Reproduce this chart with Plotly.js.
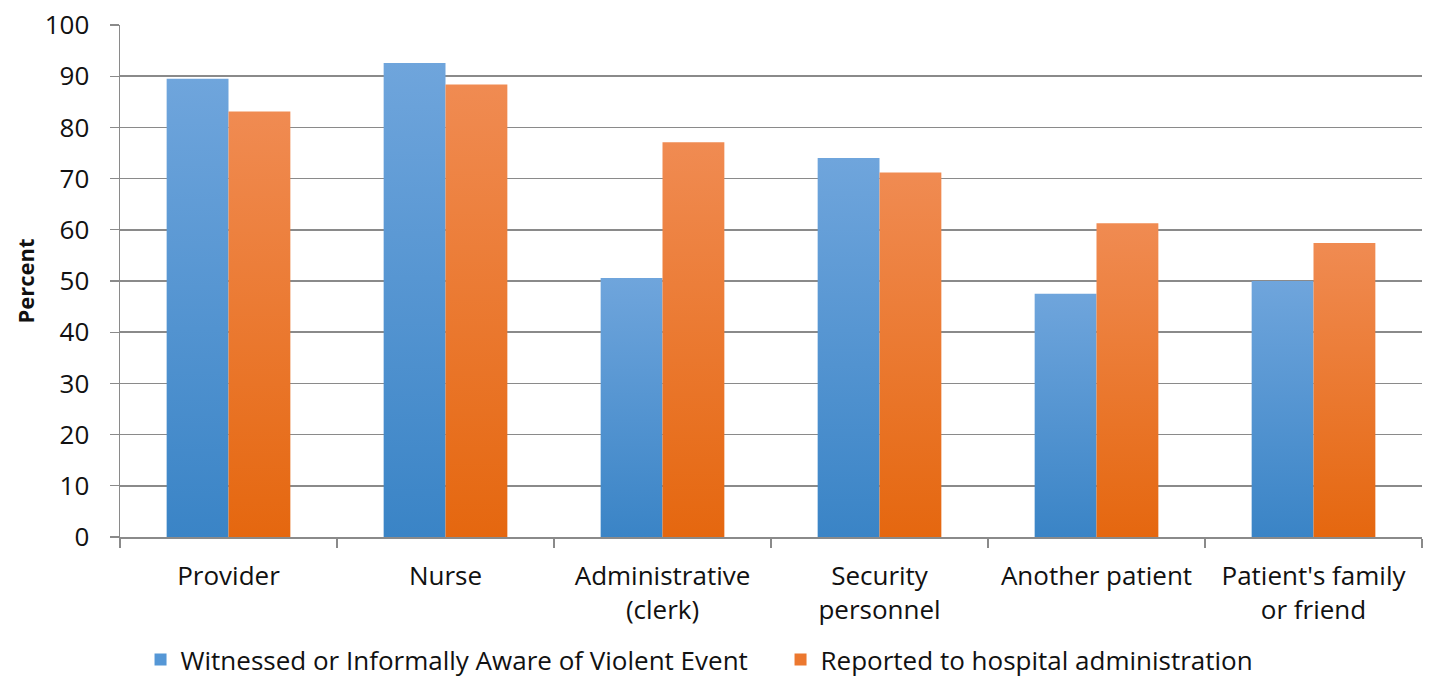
<!DOCTYPE html>
<html>
<head>
<meta charset="utf-8">
<script src="https://cdn.plot.ly/plotly-3.0.1.min.js"></script>
<style>
  html, body { margin: 0; padding: 0; background: #ffffff; }
  #chart { width: 1434px; height: 683px; }
</style>
</head>
<body>
<div id="chart"></div>
<script>
const categories = [
  "Provider",
  "Nurse",
  "Administrative<br>(clerk)",
  "Security<br>personnel",
  "Another patient",
  "Patient's family<br>or friend"
];
const witnessedName = "Witnessed or Informally Aware of Violent Event";
const reportedName = "Reported to hospital administration";
const witnessedValues = [89.5, 92.6, 50.6, 74.0, 47.5, 50.0];
const reportedValues = [83.1, 88.4, 77.1, 71.2, 61.3, 57.4];
const yTickValues = [0, 10, 20, 30, 40, 50, 60, 70, 80, 90, 100];

const fontFamily = "'Open Sans', 'Noto Sans', sans-serif";
const textSize = 26;

const traces = [
  {
    type: "bar",
    name: witnessedName,
    x: categories,
    y: witnessedValues,
    marker: { color: "#5597d6", line: { width: 0 } },
    hoverinfo: "skip"
  },
  {
    type: "bar",
    name: reportedName,
    x: categories,
    y: reportedValues,
    marker: { color: "#ec782f", line: { width: 0 } },
    hoverinfo: "skip"
  }
];

const layout = {
  width: 1434,
  height: 683,
  paper_bgcolor: "#ffffff",
  plot_bgcolor: "#ffffff",
  margin: { l: 120, r: 12, t: 25, b: 146 },
  font: { family: fontFamily, size: textSize, color: "#111111" },
  barmode: "group",
  bargap: 0.43,
  bargroupgap: 0,
  showlegend: true,
  legend: {
    orientation: "h",
    xref: "container",
    x: 0.098,
    xanchor: "left",
    yref: "container",
    y: -0.04,
    yanchor: "bottom",
    font: { family: fontFamily, size: textSize, color: "#111111" },
    entrywidth: 595,
    itemwidth: 30,
    traceorder: "normal"
  },
  xaxis: {
    type: "category",
    tickson: "boundaries",
    ticks: "outside",
    ticklen: 9,
    tickwidth: 1.3,
    tickcolor: "#8a8a8a",
    ticklabelstandoff: 15,
    showline: true,
    linecolor: "#8a8a8a",
    linewidth: 1.5,
    showgrid: false,
    tickfont: { family: fontFamily, size: textSize, color: "#111111" },
    automargin: false
  },
  yaxis: {
    range: [0, 100],
    tickvals: yTickValues,
    ticktext: yTickValues.map(String),
    ticks: "outside",
    ticklen: 9,
    tickwidth: 1.3,
    tickcolor: "#8a8a8a",
    ticklabelstandoff: 15,
    showline: true,
    linecolor: "#8a8a8a",
    linewidth: 1.5,
    showgrid: true,
    gridcolor: "#8a8a8a",
    gridwidth: 1.5,
    zeroline: false,
    tickfont: { family: fontFamily, size: textSize, color: "#111111" },
    title: {
      text: "<b>Percent</b>",
      font: { family: fontFamily, size: 22, color: "#111111" },
      standoff: 4
    },
    automargin: false
  }
};

Plotly.newPlot("chart", traces, layout, { staticPlot: true, displayModeBar: false }).then(function (gd) {
  const svg = gd.querySelector("svg.main-svg");
  const ns = "http://www.w3.org/2000/svg";
  const defs = document.createElementNS(ns, "defs");
  function grad(id, top, bottom) {
    const g = document.createElementNS(ns, "linearGradient");
    g.setAttribute("id", id);
    g.setAttribute("x1", "0"); g.setAttribute("y1", "0");
    g.setAttribute("x2", "0"); g.setAttribute("y2", "1");
    const s1 = document.createElementNS(ns, "stop");
    s1.setAttribute("offset", "0"); s1.setAttribute("stop-color", top);
    const s2 = document.createElementNS(ns, "stop");
    s2.setAttribute("offset", "1"); s2.setAttribute("stop-color", bottom);
    g.appendChild(s1); g.appendChild(s2);
    defs.appendChild(g);
  }
  grad("gradBlue", "#6fa5dc", "#3a84c6");
  grad("gradOrange", "#f08b52", "#e5670f");
  svg.insertBefore(defs, svg.firstChild);
  const traceGroups = gd.querySelectorAll(".barlayer .trace");
  traceGroups.forEach(function (tg, i) {
    tg.querySelectorAll("path").forEach(function (p) {
      p.style.fill = i === 0 ? "url(#gradBlue)" : "url(#gradOrange)";
    });
  });
});
</script>
</body>
</html>
